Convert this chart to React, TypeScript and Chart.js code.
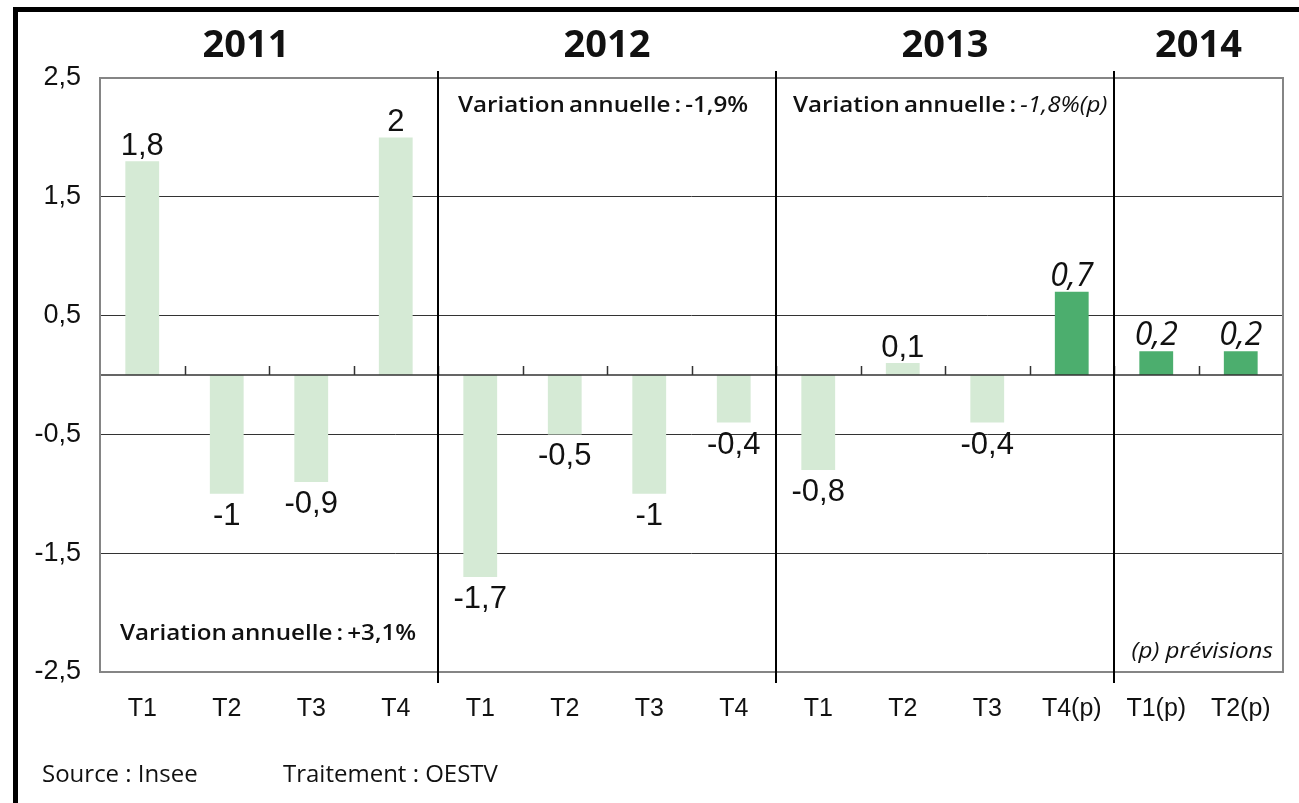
import React, { useEffect, useRef } from "react";
import { Chart, registerables } from "chart.js";

Chart.register(...registerables);

// ---- Data ----
const quarters = ["T1", "T2", "T3", "T4", "T1", "T2", "T3", "T4", "T1", "T2", "T3", "T4(p)", "T1(p)", "T2(p)"];
const values = [1.8, -1, -0.9, 2, -1.7, -0.5, -1, -0.4, -0.8, 0.1, -0.4, 0.7, 0.2, 0.2];
const forecast = [false, false, false, false, false, false, false, false, false, false, false, true, true, true];
const years = ["2011", "2012", "2013", "2014"];
const yearGroupSizes = [4, 4, 4, 2];
const notePlain = ["Variation annuelle : +3,1%", "Variation annuelle : -1,9%", "Variation annuelle : ", ""];
const noteItalic = ["", "", "-1,8%(p)", ""];
const forecastNote = "(p) prévisions";
const sourceText = "Source : Insee";
const treatmentText = "Traitement : OESTV";

// ---- Style ----
const LIGHT = "#d5ead5";
const DARK = "#4cae6e";
const W = 1299;
const H = 803;
const AREA = { left: 100, top: 78, right: 1283, bottom: 672 };
const yearTitleShift = [-23, 0, 0, 0];
const noteAtBottom = [true, false, false, false];
const noteOffset = [20, 20, 17, 0];
const NOTE_SCALE = 1.1;

const fmt = (v: number) => String(v).replace(".", ",");

const decor = {
  id: "decor",
  beforeDraw(chart: any) {
    const { ctx } = chart;
    ctx.save();
    ctx.fillStyle = "#fff";
    ctx.fillRect(0, 0, chart.width, chart.height);
    ctx.restore();
  },
  afterDatasetsDraw(chart: any) {
    const { ctx, chartArea: a, scales } = chart;
    const x = scales.x;
    const y = scales.y;
    const y0 = y.getPixelForValue(0);
    const n = quarters.length;
    const boundary = (i: number) => (x.getPixelForValue(i - 1) + x.getPixelForValue(i)) / 2;
    ctx.save();

    // zero line + small ticks
    ctx.strokeStyle = "#333";
    ctx.lineWidth = 1.5;
    ctx.beginPath();
    ctx.moveTo(a.left, y0);
    ctx.lineTo(a.right, y0);
    for (let i = 1; i < n; i++) {
      const bx = Math.round(boundary(i)) + 0.5;
      ctx.moveTo(bx, y0 - 9);
      ctx.lineTo(bx, y0);
    }
    ctx.stroke();

    // plot frame
    ctx.strokeStyle = "#858585";
    ctx.lineWidth = 2;
    ctx.strokeRect(a.left, a.top, a.right - a.left, a.bottom - a.top);

    // year separators
    ctx.strokeStyle = "#000";
    ctx.lineWidth = 2;
    let idx = 0;
    const groupStart: number[] = [];
    const groupEnd: number[] = [];
    for (let g = 0; g < yearGroupSizes.length; g++) {
      groupStart.push(idx === 0 ? a.left : boundary(idx));
      idx += yearGroupSizes[g];
      groupEnd.push(idx >= n ? a.right : boundary(idx));
      if (idx < n) {
        const bx = Math.round(boundary(idx));
        ctx.beginPath();
        ctx.moveTo(bx, a.top - 7);
        ctx.lineTo(bx, a.bottom + 11);
        ctx.stroke();
      }
    }

    // value labels
    ctx.fillStyle = "#111";
    ctx.textAlign = "center";
    ctx.textBaseline = "alphabetic";
    for (let i = 0; i < n; i++) {
      const v = values[i];
      const cx = x.getPixelForValue(i);
      const py = y.getPixelForValue(v);
      ctx.font = forecast[i]
        ? "italic 32px 'Open Sans', sans-serif"
        : "31px 'Liberation Sans', Arial, sans-serif";
      if (v >= 0) {
        ctx.fillText(fmt(v), cx, py - 6);
      } else {
        ctx.fillText(fmt(v), cx, py + 31);
      }
    }

    // year titles
    ctx.font = "bold 38px 'Open Sans', sans-serif";
    ctx.fillStyle = "#111";
    ctx.textBaseline = "middle";
    for (let g = 0; g < years.length; g++) {
      const cx = (groupStart[g] + groupEnd[g]) / 2 + yearTitleShift[g];
      ctx.fillText(years[g], cx, 46);
    }

    // annual variation notes (slightly widened text)
    ctx.textAlign = "left";
    for (let g = 0; g < years.length; g++) {
      if (!notePlain[g] && !noteItalic[g]) continue;
      const nx = groupStart[g] + noteOffset[g];
      const ny = noteAtBottom[g] ? 634 : 106;
      ctx.save();
      ctx.translate(nx, ny);
      ctx.scale(NOTE_SCALE, 1);
      (ctx as any).wordSpacing = "-2px";
      ctx.font = "600 22px 'Open Sans', sans-serif";
      ctx.fillText(notePlain[g], 0, 0);
      const w = ctx.measureText(notePlain[g]).width;
      if (noteItalic[g]) {
        ctx.font = "italic 22px 'Open Sans', sans-serif";
        ctx.fillText(noteItalic[g], w, 0);
      }
      ctx.restore();
    }

    // forecast note
    ctx.save();
    ctx.translate(a.right - 10, 652);
    ctx.scale(NOTE_SCALE, 1);
    ctx.textAlign = "right";
    ctx.font = "italic 22px 'Open Sans', sans-serif";
    ctx.fillText(forecastNote, 0, 0);
    ctx.restore();

    // source
    ctx.textAlign = "left";
    ctx.font = "24px 'Open Sans', sans-serif";
    ctx.fillText(sourceText, 42, 775);
    ctx.fillText(treatmentText, 283, 775);

    ctx.restore();
  },
};

export default function App() {
  const ref = useRef<HTMLCanvasElement | null>(null);
  useEffect(() => {
    document.body.style.margin = "0";
    if (!ref.current) return;
    const chart = new Chart(ref.current, {
      type: "bar",
      data: {
        labels: quarters,
        datasets: [
          {
            data: values,
            backgroundColor: values.map((_, i) => (forecast[i] ? DARK : LIGHT)),
            borderWidth: 0,
            barPercentage: 0.4,
            categoryPercentage: 1,
          },
        ],
      },
      options: {
        animation: false,
        responsive: false,
        events: [],
        layout: { padding: { left: 0, top: AREA.top, right: W - AREA.right, bottom: 0 } },
        plugins: { legend: { display: false }, tooltip: { enabled: false }, title: { display: false } },
        scales: {
          x: {
            grid: { display: false, drawTicks: false },
            border: { display: false },
            ticks: {
              color: "#111",
              padding: 22,
              font: { family: "'Liberation Sans', Arial, sans-serif", size: 25 },
              maxRotation: 0,
              autoSkip: false,
            },
            afterFit: (s: any) => {
              s.height = H - AREA.bottom;
            },
          },
          y: {
            min: -2.5,
            max: 2.5,
            grid: { color: "#333", lineWidth: 1, drawTicks: false },
            border: { display: false },
            ticks: {
              stepSize: 1,
              padding: 19,
              color: "#111",
              font: { family: "'Liberation Sans', Arial, sans-serif", size: 27 },
              callback: (v: any) => fmt(Number(v)),
            },
            afterFit: (s: any) => {
              s.width = AREA.left;
            },
          },
        },
      },
      plugins: [decor],
    });
    return () => chart.destroy();
  }, []);

  return (
    <div style={{ position: "relative", width: W, height: H, background: "#fff", overflow: "hidden" }}>
      <canvas ref={ref} width={W} height={H} style={{ display: "block", position: "absolute", left: 0, top: 0 }} />
      <div
        style={{
          position: "absolute",
          left: 13,
          top: 7,
          width: W - 13,
          height: H - 7,
          borderLeft: "5px solid #000",
          borderTop: "5px solid #000",
          boxSizing: "border-box",
          pointerEvents: "none",
        }}
      />
    </div>
  );
}
